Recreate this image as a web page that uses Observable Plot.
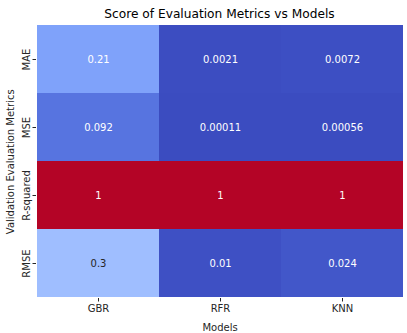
<!DOCTYPE html>
<html>
<head>
<meta charset="utf-8">
<script src="https://cdn.jsdelivr.net/npm/d3@7"></script>
<script src="https://cdn.jsdelivr.net/npm/@observablehq/plot@0.6"></script>
<style>
  html, body { margin: 0; padding: 0; background: #fff; }
  #wrap { width: 407px; height: 333px; font-family: "DejaVu Sans", sans-serif; }
  #title { height: 24px; box-sizing: border-box; padding: 4px 4px 0 36px; line-height: 20px;
           font-size: 12.2px; text-align: center; color: #000; white-space: nowrap; }
  svg { display: block; }
</style>
</head>
<body>
<div id="wrap">
  <div id="title">Score of Evaluation Metrics vs Models</div>
  <div id="chart"></div>
</div>
<script>
const models = ["GBR", "RFR", "KNN"];
const metrics = ["MAE", "MSE", "R-squared", "RMSE"];
const gbr = [0.21, 0.092, 1, 0.3];
const rfr = [0.0021, 0.00011, 1, 0.01];
const knn = [0.0072, 0.00056, 1, 0.024];

const series = {GBR: gbr, RFR: rfr, KNN: knn};
const table = [];
for (const m of models) metrics.forEach((r, i) => table.push({model: m, metric: r, value: series[m][i]}));

const lo = d3.min(table, d => d.value), hi = d3.max(table, d => d.value);
// matplotlib "coolwarm" colormap stops (every 1/16)
const coolwarm = d3.piecewise(d3.interpolateRgb, [
  "#3b4cc0", "#4d68d7", "#6282ea", "#779af7", "#8db0fe", "#a3c2ff", "#b8d0f9", "#cbd8ed",
  "#dddddd", "#edd1c3", "#f4c4ad", "#f6a385", "#f49a7b", "#ec7f63", "#dd604c", "#ca3b37", "#b40426"
]);
const colorOpts = {type: "linear", domain: [lo, hi], interpolate: coolwarm};
const cscale = Plot.scale({color: colorOpts});
function lum(c) {
  const rgb = d3.rgb(c);
  const f = v => { v /= 255; return v <= 0.03928 ? v / 12.92 : Math.pow((v + 0.055) / 1.055, 2.4); };
  return 0.2126 * f(rgb.r) + 0.7152 * f(rgb.g) + 0.0722 * f(rgb.b);
}
const fmt = d3.format(".2~g");

const chart = Plot.plot({
  width: 407,
  height: 309,
  marginTop: 0.5,
  marginBottom: 35,
  marginLeft: 36,
  marginRight: 4,
  style: {fontFamily: "DejaVu Sans, sans-serif", fontSize: "10px", color: "#262626", background: "#fff"},
  x: {domain: models, padding: 0, label: null},
  y: {domain: metrics, padding: 0, label: null},
  color: colorOpts,
  marks: [
    Plot.cell(table, {x: "model", y: "metric", fill: "value", inset: 0}),
    Plot.text(table, {x: "model", y: "metric", text: d => fmt(d.value), fontSize: 10,
      fill: d => lum(cscale.apply(d.value)) > 0.408 ? "#262626" : "#ffffff"}),
    Plot.axisX({tickSize: 3.5, tickPadding: 3, fontSize: 10, label: "Models", labelAnchor: "center", labelOffset: 32}),
    Plot.axisY({tickSize: 3.5, tickPadding: 3, tickRotate: -90, fontSize: 10,
      label: "Validation Evaluation Metrics", labelAnchor: "center", labelOffset: 30})
  ]
});
document.getElementById("chart").appendChild(chart);
</script>
</body>
</html>
